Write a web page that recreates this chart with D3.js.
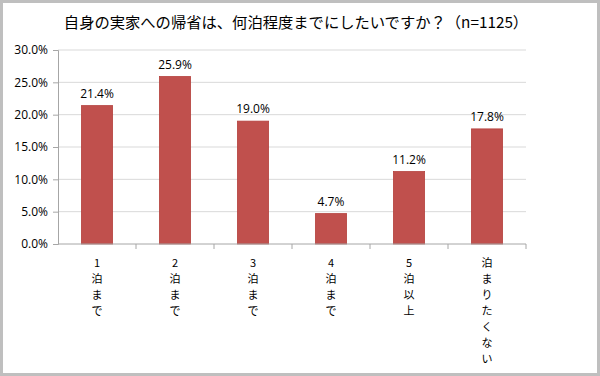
<!DOCTYPE html>
<html><head><meta charset="utf-8">
<script src="https://cdn.jsdelivr.net/npm/d3@7"></script>
<style>body{margin:0;background:#fff}svg{display:block}</style>
</head><body>
<script>
const categories = ["1泊まで","2泊まで","3泊まで","4泊まで","5泊以上","泊まりたくない"];
const labelLines = [["1","泊","ま","で"],["2","泊","ま","で"],["3","泊","ま","で"],["4","泊","ま","で"],["5","泊","以","上"],["泊","ま","り","た","く","な","い"]];
const values = [21.4, 25.9, 19.0, 4.7, 11.2, 17.8];
const yTicks = [0,5,10,15,20,25,30];
const title = "自身の実家への帰省は、何泊程度までにしたいですか？（n=1125）";

const W=600,H=376;
const svg=d3.select("body").append("svg").attr("width",W).attr("height",H);
svg.append("rect").attr("x",1.5).attr("y",1.5).attr("width",W-3).attr("height",H-3)
  .attr("fill","#fff").attr("stroke","#bfbfbf").attr("stroke-width",3);

const font="'Noto Sans CJK JP','Noto Sans',sans-serif";
svg.append("text").attr("x",296).attr("y",28).attr("text-anchor","middle")
  .attr("font-family",font).attr("font-size",15.3).attr("fill","#000").text(title);

const x=d3.scaleBand().domain(categories).range([58,526]).paddingInner(0.6).paddingOuter(0.3);
const y=d3.scaleLinear().domain([0,30]).range([244,50]);

// gridlines
svg.append("g").selectAll("line").data(yTicks.slice(1)).join("line")
  .attr("x1",58).attr("x2",526).attr("y1",d=>y(d)).attr("y2",d=>y(d))
  .attr("stroke","#d9d9d9").attr("stroke-width",1);

// y axis
const ya=svg.append("g").attr("transform","translate(58,0)")
  .call(d3.axisLeft(y).tickValues(yTicks).tickSize(5).tickFormat(d=>d.toFixed(1)+"%"));
ya.select(".domain").attr("stroke","#a6a6a6");
ya.selectAll(".tick line").attr("stroke","#a6a6a6");
ya.selectAll(".tick text").attr("font-family","'Open Sans',sans-serif").attr("font-size",12).attr("fill","#000").attr("dx",-2);

// bars
svg.append("g").selectAll("rect").data(values).join("rect")
  .attr("x",(d,i)=>x(categories[i])).attr("width",x.bandwidth())
  .attr("y",d=>y(d)).attr("height",d=>y(0)-y(d))
  .attr("fill","#c0504d").attr("stroke","#b4413e").attr("stroke-width",0.8);

// value labels
svg.append("g").selectAll("text").data(values).join("text")
  .attr("x",(d,i)=>x(categories[i])+x.bandwidth()/2).attr("y",d=>y(d)-8)
  .attr("text-anchor","middle").attr("font-family","'Open Sans',sans-serif").attr("font-size",12)
  .attr("fill","#000").text(d=>d.toFixed(1)+"%");

// x axis
const step=x.step();
const xa=svg.append("g").attr("transform","translate(0,244)");
xa.append("line").attr("x1",58).attr("x2",526).attr("stroke","#a6a6a6");
const bounds=categories.map((c,i)=>58+step*(i+1));
xa.selectAll(".tk").data(bounds).join("line").attr("class","tk")
  .attr("x1",d=>d).attr("x2",d=>d).attr("y1",0).attr("y2",5).attr("stroke","#a6a6a6");

const lg=svg.append("g");
labelLines.forEach((lines,i)=>{
  const cx=x(categories[i])+x.bandwidth()/2;
  lines.forEach((ch,j)=>{
    lg.append("text").attr("x",cx).attr("y",267+j*16).attr("text-anchor","middle")
      .attr("font-family",font).attr("font-size",11).attr("fill","#000").text(ch);
  });
});
</script>
</body></html>
